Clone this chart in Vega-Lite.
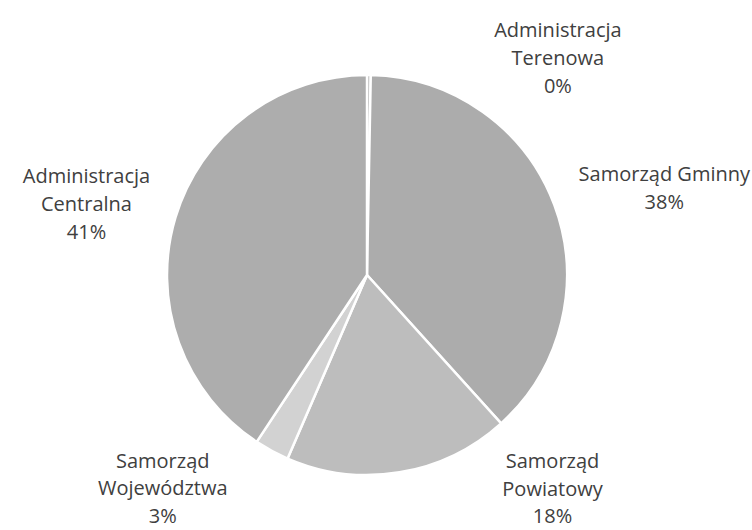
{
  "$schema": "https://vega.github.io/schema/vega-lite/v6.json",
  "width": 734,
  "height": 550,
  "autosize": "none",
  "padding": {"left": 0, "top": 0, "right": 18, "bottom": 0},
  "background": "white",
  "config": {"view": {"stroke": null}},
  "data": {
    "values": [
      {"n": 1, "category": "Administracja Terenowa", "value": 0.3, "label": ["Administracja", "Terenowa", "0%"]},
      {"n": 2, "category": "Samorząd Gminny", "value": 38.0, "label": ["Samorząd  Gminny", "38%"]},
      {"n": 3, "category": "Samorząd Powiatowy", "value": 18.2, "label": ["Samorząd", "Powiatowy", "18%"]},
      {"n": 4, "category": "Samorząd Województwa", "value": 2.8, "label": ["Samorząd", "Województwa", "3%"]},
      {"n": 5, "category": "Administracja Centralna", "value": 40.7, "label": ["Administracja", "Centralna", "41%"]}
    ]
  },
  "transform": [
    {"stack": "value", "groupby": [], "sort": [{"field": "n", "order": "ascending"}], "as": ["v0", "v1"]},
    {"calculate": "(datum.v0 + datum.v1) / 2", "as": "mid"}
  ],
  "layer": [
    {
      "mark": {"type": "arc", "radius": 200, "stroke": "white", "strokeWidth": 2.5},
      "encoding": {
        "theta": {"field": "v0", "type": "quantitative", "scale": {"domain": [0, 100]}},
        "theta2": {"field": "v1"},
        "color": {
          "field": "category", "type": "nominal", "legend": null,
          "scale": {
            "domain": ["Administracja Terenowa", "Samorząd Gminny", "Samorząd Powiatowy", "Samorząd Województwa", "Administracja Centralna"],
            "range": ["#a8a8a8", "#acacac", "#bdbdbd", "#d2d2d2", "#adadad"]
          }
        }
      }
    },
    {
      "transform": [{"filter": "datum.n == 1"}],
      "mark": {"type": "text", "radius": 200, "dx": 189, "dy": -44.5, "font": "Open Sans", "fontSize": 20, "lineHeight": 28, "color": "#404040", "align": "center", "baseline": "middle"},
      "encoding": {"theta": {"field": "mid", "type": "quantitative", "stack": null}, "text": {"field": "label"}}
    },
    {
      "transform": [{"filter": "datum.n == 2"}],
      "mark": {"type": "text", "radius": 200, "dx": 110, "dy": -29.5, "font": "Open Sans", "fontSize": 20, "lineHeight": 28, "color": "#404040", "align": "center", "baseline": "middle"},
      "encoding": {"theta": {"field": "mid", "type": "quantitative", "stack": null}, "text": {"field": "label"}}
    },
    {
      "transform": [{"filter": "datum.n == 3"}],
      "mark": {"type": "text", "radius": 200, "dx": 153, "dy": -10, "font": "Open Sans", "fontSize": 20, "lineHeight": 27.5, "color": "#404040", "align": "center", "baseline": "middle"},
      "encoding": {"theta": {"field": "mid", "type": "quantitative", "stack": null}, "text": {"field": "label"}}
    },
    {
      "transform": [{"filter": "datum.n == 4"}],
      "mark": {"type": "text", "radius": 200, "dx": -109, "dy": 11, "font": "Open Sans", "fontSize": 20, "lineHeight": 27.5, "color": "#404040", "align": "center", "baseline": "middle"},
      "encoding": {"theta": {"field": "mid", "type": "quantitative", "stack": null}, "text": {"field": "label"}}
    },
    {
      "transform": [{"filter": "datum.n == 5"}],
      "mark": {"type": "text", "radius": 200, "dx": -89, "dy": -40.5, "font": "Open Sans", "fontSize": 20, "lineHeight": 28, "color": "#404040", "align": "center", "baseline": "middle"},
      "encoding": {"theta": {"field": "mid", "type": "quantitative", "stack": null}, "text": {"field": "label"}}
    }
  ]
}
